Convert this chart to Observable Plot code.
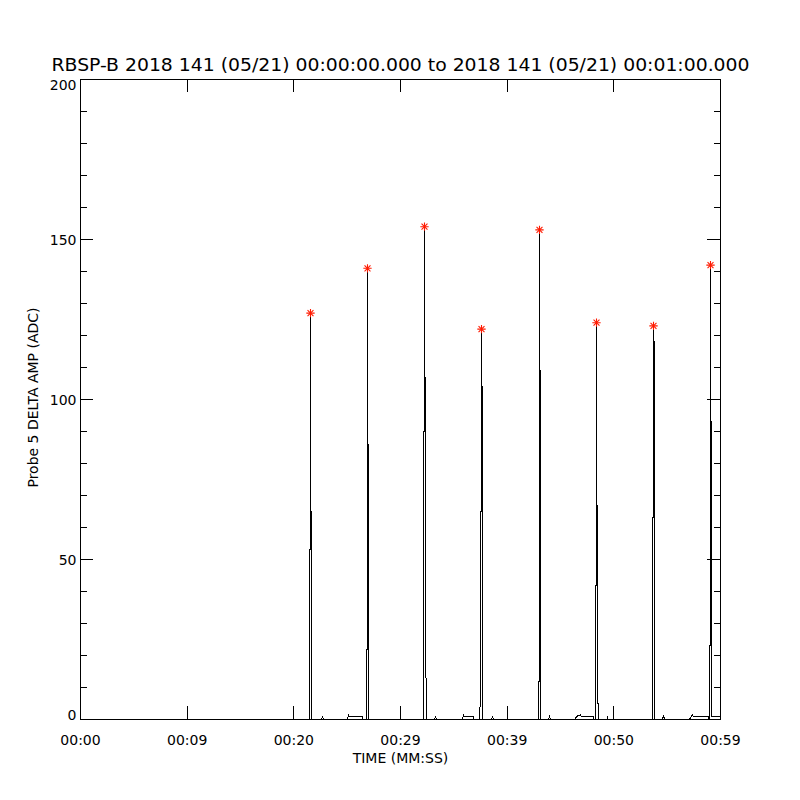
<!DOCTYPE html>
<html>
<head>
<meta charset="utf-8">
<script src="https://cdn.jsdelivr.net/npm/d3@7"></script>
<script src="https://cdn.jsdelivr.net/npm/@observablehq/plot@0.6"></script>
<style>
  html, body { margin: 0; padding: 0; background: #fff; }
  #chart { width: 800px; height: 800px; }
</style>
</head>
<body>
<div id="chart"></div>
<script>
// ---- Data ----
const titleText = "RBSP-B 2018 141 (05/21) 00:00:00.000 to 2018 141 (05/21) 00:01:00.000";
const xLabel = "TIME (MM:SS)";
const yLabel = "Probe 5 DELTA AMP (ADC)";

// trace: seconds from 00:00:00 and Probe 5 delta amplitude (ADC)
const traceSec = [
  0, 21.469,
  21.469, 21.5625, 21.5625, 21.5625, 21.656, 21.656,
  22.60, 22.69, 22.78,
  25.03, 25.12, 25.20, 26.44, 26.47,
  26.8125, 26.8125, 26.906, 26.906, 26.906, 27.0, 27.0,
  32.156, 32.156, 32.25, 32.25, 32.25, 32.344, 32.344, 32.40, 32.40,
  33.19, 33.28, 33.37,
  35.81, 35.90, 35.97, 36.84, 36.87,
  37.45, 37.45, 37.5, 37.5, 37.594, 37.594, 37.594, 37.688, 37.688,
  38.53, 38.63, 38.72,
  42.938, 42.938, 43.031, 43.031, 43.031, 43.125, 43.125,
  43.90, 43.97, 44.06,
  46.31, 46.60, 46.88, 46.97, 48.09, 48.12,
  48.281, 48.281, 48.375, 48.375, 48.375, 48.469, 48.469, 48.52, 48.52,
  49.35, 49.40, 49.45,
  53.625, 53.625, 53.719, 53.719, 53.719, 53.813, 53.813,
  54.56, 54.66, 54.75,
  57.09, 57.30, 57.38, 57.45, 58.88, 58.91,
  58.969, 58.969, 59.063, 59.063, 59.063, 59.156, 59.156, 60
];
const traceAdc = [
  0, 0,
  53, 53, 127, 65, 65, 0,
  0, 1, 0,
  0, 1.5, 0.8, 0.8, 0,
  0, 22, 22, 141, 86, 86, 0,
  0, 90, 90, 154, 107, 107, 13, 13, 0,
  0, 1, 0,
  0, 1.5, 0.8, 0.8, 0,
  0, 4, 4, 65, 65, 122, 104, 104, 0,
  0, 1, 0,
  0, 12, 12, 153, 109, 109, 0,
  0, 1.2, 0,
  0, 1.2, 1.5, 0.9, 0.9, 0,
  0, 42, 42, 124, 67, 67, 5, 5, 0,
  0, 1, 0,
  0, 63, 63, 123, 118, 118, 0,
  0, 1.2, 0,
  0, 1.2, 1.5, 0.9, 0.9, 0,
  0, 23, 23, 142, 93, 93, 1, 1
];

// detected peaks (red asterisks)
const peakSec = [21.5625, 26.906, 32.25, 37.594, 43.031, 48.375, 53.719, 59.063];
const peakAdc = [127, 141, 154, 122, 153, 124, 123, 142];

// axis ticks
const xTicks = [0, 10, 20, 30, 40, 50, 60];
const xTickLabels = ["00:00", "00:09", "00:20", "00:29", "00:39", "00:50", "00:59"];
const yMajor = [0, 50, 100, 150, 200];
const yMinor = [10, 20, 30, 40, 60, 70, 80, 90, 110, 120, 130, 140, 160, 170, 180, 190];

// ---- Build ----
const trace = traceSec.map((t, i) => ({t, v: traceAdc[i]}));
const peaks = peakSec.map((t, i) => ({t, v: peakAdc[i]}));
const font = "DejaVu Sans, sans-serif";
const frameW = 640;

const plot = Plot.plot({
  width: 800,
  height: 800,
  marginLeft: 80,
  marginRight: 80,
  marginTop: 79,
  marginBottom: 81,
  style: {background: "#fff", color: "#000", fontFamily: font, fontSize: "14px"},
  x: {domain: [0, 60], axis: null},
  y: {domain: [0, 200], axis: null},
  marks: [
    // trace
    Plot.line(trace, {x: "t", y: "v", stroke: "#000", strokeWidth: 1, shapeRendering: "crispEdges"}),
    // y ticks, left and right, inward
    Plot.tickY(yMajor, {y: d => d, insetRight: frameW - 13, stroke: "#000", shapeRendering: "crispEdges"}),
    Plot.tickY(yMajor, {y: d => d, insetLeft: frameW - 13, stroke: "#000", shapeRendering: "crispEdges"}),
    Plot.tickY(yMinor, {y: d => d, insetRight: frameW - 6.5, stroke: "#000", shapeRendering: "crispEdges"}),
    Plot.tickY(yMinor, {y: d => d, insetLeft: frameW - 6.5, stroke: "#000", shapeRendering: "crispEdges"}),
    // x ticks, bottom and top, inward
    Plot.tickX(xTicks, {x: d => d, insetTop: frameW - 13, stroke: "#000", shapeRendering: "crispEdges"}),
    Plot.tickX(xTicks, {x: d => d, insetBottom: frameW - 13, stroke: "#000", shapeRendering: "crispEdges"}),
    Plot.frame({stroke: "#000", shapeRendering: "crispEdges"}),
    // peak markers
    Plot.dot(peaks, {x: "t", y: "v", symbol: "plus", r: 2.8, stroke: "#ff1a00", fill: "none", strokeWidth: 1.1}),
    Plot.dot(peaks, {x: "t", y: "v", symbol: "times", r: 2.8, stroke: "#ff1a00", fill: "none", strokeWidth: 1.1}),
    // y tick labels
    Plot.text(yMajor.filter(d => d > 0 && d < 200), {y: d => d, text: d => String(d), frameAnchor: "left", textAnchor: "end", lineAnchor: "middle", dx: -4, dy: 1, fill: "#000"}),
    Plot.text(yMajor.filter(d => d === 0), {y: d => d, text: d => String(d), frameAnchor: "left", textAnchor: "end", lineAnchor: "middle", dx: -4, dy: -4, fill: "#000"}),
    Plot.text(yMajor.filter(d => d === 200), {y: d => d, text: d => String(d), frameAnchor: "left", textAnchor: "end", lineAnchor: "middle", dx: -4, dy: 6, fill: "#000"}),
    // x tick labels
    Plot.text(xTicks, {x: d => d, text: (d, i) => xTickLabels[i], frameAnchor: "bottom", lineAnchor: "middle", dy: 21, fill: "#000"}),
    // axis titles
    Plot.text([xLabel], {text: d => d, frameAnchor: "bottom", lineAnchor: "middle", dy: 39, fill: "#000"}),
    Plot.text([yLabel], {text: d => d, frameAnchor: "left", textAnchor: "middle", lineAnchor: "middle", rotate: -90, dx: -47, dy: -2, fill: "#000"}),
    // title
    Plot.text([titleText], {text: d => d, frameAnchor: "top", lineAnchor: "middle", dy: -14, fontSize: 17, fill: "#000"})
  ]
});

d3.select(plot).selectAll("text")
  .filter(function () { return this.textContent === titleText; })
  .attr("textLength", 698)
  .attr("lengthAdjust", "spacingAndGlyphs");

document.getElementById("chart").appendChild(plot);
</script>
</body>
</html>
